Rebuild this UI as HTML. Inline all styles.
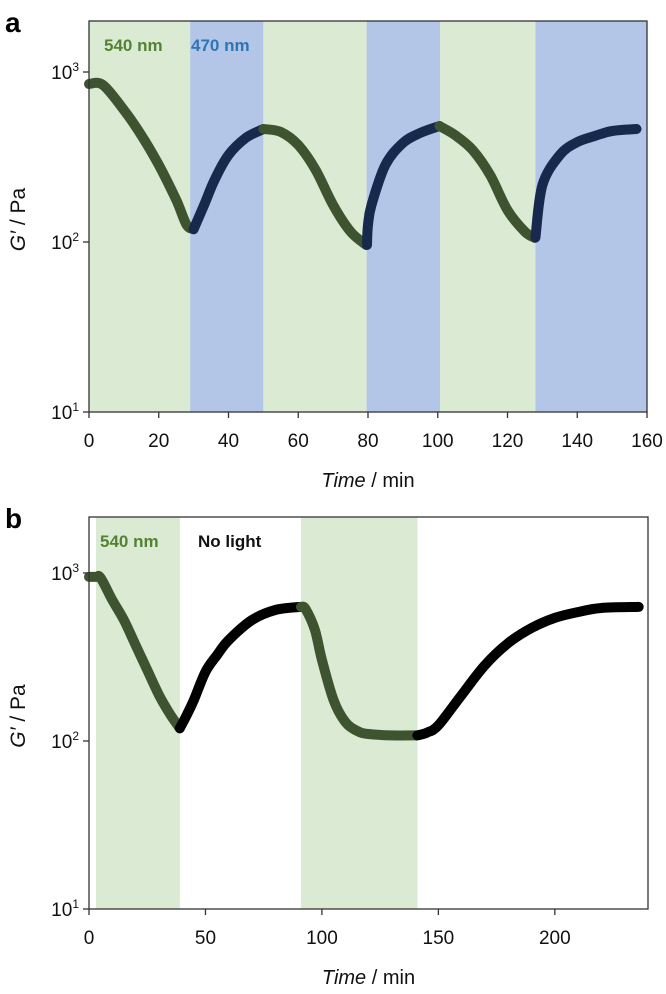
<!DOCTYPE html>
<html><head><meta charset="utf-8">
<style>
html,body{margin:0;padding:0;background:#fff;}
svg{display:block;font-family:"Liberation Sans",Arial,sans-serif;}
</style></head>
<body>
<svg id="fig" width="666" height="994" viewBox="0 0 666 994"></svg>
<script>
// ---- Panel a data ----
const aBands = [[0,29,'g'],[29,50,'b'],[50,79.6,'g'],[79.6,100.7,'b'],[100.7,128,'g'],[128,160,'b']];
const aSeg1T = [0,4,10,15,20,25,28,30];
const aSeg1V = [850,839,598,425,284,177,126,119];
const aSeg2T = [30,33,36,40,45,50];
const aSeg2V = [119,165,232,325,410,462];
const aSeg3T = [50,55,60,65,70,75,79.5];
const aSeg3V = [462,444,372,265,165,115,96];
const aSeg4T = [79.7,80,81,85,90,95,100.5];
const aSeg4V = [96,126,165,284,382,438,481];
const aSeg5T = [100.5,105,110,115,120,125,127.8];
const aSeg5V = [481,425,348,248,154,115,106];
const aSeg6T = [128,130,135,140,145,150,157];
const aSeg6V = [106,216,325,387,420,450,462];
const aXTicks = [0,20,40,60,80,100,120,140,160];
// ---- Panel b data ----
const bBands = [[3,39],[91,141]];
const bSeg1T = [0,3,5,10,15,20,25,30,35,39];
const bSeg1V = [947,947,935,690,525,372,265,188,143,119];
const bSeg2T = [39,42,45,50,55,60,70,80,91];
const bSeg2V = [119,143,175,258,325,399,525,602,628];
const bSeg3T = [91,93,97,100,105,110,115,120,130,141];
const bSeg3V = [628,610,458,304,175,130,115,110,108,108];
const bSeg4T = [141,145,150,160,170,180,190,200,210,220,236];
const bSeg4V = [108,112,124,188,283,383,470,540,586,619,628];
const bXTicks = [0,50,100,150,200];
const yTicks = [1,2,3];

const NS='http://www.w3.org/2000/svg';
const svg=document.getElementById('fig');
function mk(tag,attrs,parent){const e=document.createElementNS(NS,tag);for(const k in attrs)e.setAttribute(k,attrs[k]);(parent||svg).appendChild(e);return e;}
function smooth(P){
  let d='M'+P[0][0].toFixed(1)+','+P[0][1].toFixed(1);
  for(let i=0;i<P.length-1;i++){
    const p0=P[Math.max(0,i-1)],p1=P[i],p2=P[i+1],p3=P[Math.min(P.length-1,i+2)];
    const c1=[p1[0]+(p2[0]-p0[0])/6,p1[1]+(p2[1]-p0[1])/6];
    const c2=[p2[0]-(p3[0]-p1[0])/6,p2[1]-(p3[1]-p1[1])/6];
    d+=' C'+c1.map(v=>v.toFixed(1)).join(',')+' '+c2.map(v=>v.toFixed(1)).join(',')+' '+p2[0].toFixed(1)+','+p2[1].toFixed(1);
  }
  return d;
}
function panel(cfg){
  const g=mk('g',{});
  
  
  const x=t=>cfg.x0+(t-cfg.xmin)/(cfg.xmax-cfg.xmin)*(cfg.x1-cfg.x0);
  const y=v=>cfg.yB-(Math.log10(v)-1)/(cfg.logTop-1)*(cfg.yB-cfg.yT);
  cfg.bands.forEach(b=>{
    const r=mk('rect',{x:x(b[0]),y:cfg.yT,width:x(b[1])-x(b[0]),height:cfg.yB-cfg.yT,fill:b[2]==='b'?'#b4c6e7':'#dbebd3'},g);
    
    
  });
  cfg.segs.forEach(s=>{
    const P=s.t.map((t,i)=>[x(t),y(s.v[i])]);
    const pl=mk('path',{d:smooth(P),fill:'none',stroke:s.c,'stroke-width':10,'stroke-linejoin':'round','stroke-linecap':'round'},g);
    
    
  });
  const fr=mk('rect',{x:cfg.x0,y:cfg.yT,width:cfg.x1-cfg.x0,height:cfg.yB-cfg.yT,fill:'none',stroke:'#333','stroke-width':1.3},g);
  
  
  cfg.xt.forEach(t=>{
    mk('line',{x1:x(t),x2:x(t),y1:cfg.yB,y2:cfg.yB+6,stroke:'#333','stroke-width':1.3},g);
    const tx=mk('text',{x:x(t),y:cfg.yB+35,'text-anchor':'middle','font-size':19,fill:'#111'},g);
    tx.textContent=t;
    
    
  });
  yTicks.forEach(p=>{
    const yy=y(Math.pow(10,p));
    mk('line',{x1:cfg.x0-6,x2:cfg.x0,y1:yy,y2:yy,stroke:'#333','stroke-width':1.3},g);
    const tx=mk('text',{x:cfg.x0-10,y:yy+7,'text-anchor':'end','font-size':19,fill:'#111'},g);
    tx.textContent='10';
    const sp=mk('tspan',{dy:-8,'font-size':12},tx);sp.textContent=p;
    
    
  });
  const xl=mk('text',{x:(cfg.x0+cfg.x1)/2,y:cfg.yB+75,'text-anchor':'middle','font-size':20,fill:'#111'},g);
  xl.innerHTML='<tspan font-style="italic">Time</tspan> / min';
  
  
  const yl=mk('text',{transform:`translate(${cfg.x0-64},${(cfg.yT+cfg.yB)/2+3}) rotate(-90)`,'text-anchor':'middle','font-size':21,fill:'#111'},g);
  yl.innerHTML='<tspan font-style="italic">G\u2032</tspan> / Pa';
  
  
  const pl=mk('text',{x:5,y:cfg.yT+11,'font-size':28,'font-weight':'bold',fill:'#000'},g);
  pl.textContent=cfg.letter;
  
  
  cfg.labels.forEach(l=>{
    const t=mk('text',{x:l[0],y:cfg.yT+30,'font-size':17,'font-weight':'bold',fill:l[2]},g);
    t.textContent=l[1];
    
    
  });
}
const G='#3e5430',B='#172a4d',K='#000';
panel({name:'panel-a',letter:'a',x0:89,x1:647,xmin:0,xmax:160,yT:21,yB:412,logTop:3.3,
  bands:aBands,xt:aXTicks,
  segs:[{t:aSeg1T,v:aSeg1V,c:G},{t:aSeg2T,v:aSeg2V,c:B},{t:aSeg3T,v:aSeg3V,c:G},{t:aSeg4T,v:aSeg4V,c:B},{t:aSeg5T,v:aSeg5V,c:G},{t:aSeg6T,v:aSeg6V,c:B}],
  labels:[[104,'540 nm','#548235'],[191,'470 nm','#2e75b6']]});
panel({name:'panel-b',letter:'b',x0:89,x1:648,xmin:0,xmax:240,yT:517,yB:909,logTop:3.333,
  bands:bBands.map(b=>[b[0],b[1],'g']),xt:bXTicks,
  segs:[{t:bSeg1T,v:bSeg1V,c:G},{t:bSeg2T,v:bSeg2V,c:K},{t:bSeg3T,v:bSeg3V,c:G},{t:bSeg4T,v:bSeg4V,c:K}],
  labels:[[100,'540 nm','#548235'],[198,'No light','#111']]});
</script>
</body></html>
